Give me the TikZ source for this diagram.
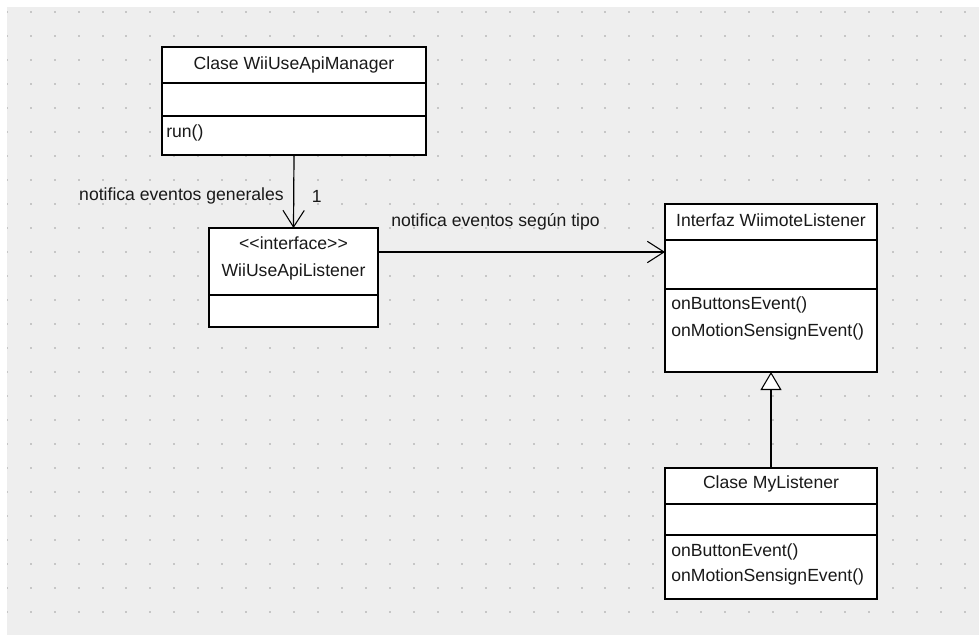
\documentclass[tikz,border=0pt]{standalone}
\usepackage{fontspec}
\setmainfont{Liberation Sans}
\usetikzlibrary{arrows.meta,shadows}
\definecolor{canvas}{HTML}{EEEEEE}
\definecolor{griddot}{HTML}{C6C6C6}
\begin{document}
\begin{tikzpicture}[x=0.75pt,y=-0.75pt]
\tikzset{
  uml/.style={draw=black, line width=0.9pt, fill=white, anchor=north west,
    inner sep=0pt, outer sep=0pt,
    drop shadow={shadow xshift=0.8pt, shadow yshift=-0.8pt, fill=black!45, opacity=1}},
  sep/.style={line width=0.9pt},
  lbl/.style={inner sep=0pt, font=\fontsize{13.2}{15}\selectfont, text=black!90},
  assoc/.style={line width=0.9pt, -{Straight Barb[length=12.5pt,width=16pt,line width=0.8pt]}},
  gen/.style={line width=0.9pt, -{Triangle[fill=white,length=13.5pt,width=15.75pt,line width=0.8pt]}},
}
% canvas and dotted grid
\useasboundingbox (0,0) rectangle (979,635);
\fill[white] (0,0) rectangle (979,635);
\fill[canvas] (7,7) rectangle (979,635);
\begin{scope}
  \clip (7,7) rectangle (979,635);
  \foreach \i in {0,...,40}{
    \foreach \j in {0,...,25}{
      \fill[griddot] ({6.7+23.95*\i-1},{12.3+24*\j-1}) rectangle ++(2,2);
    }
  }
\end{scope}

% class WiiUseApiManager
\node[uml, minimum width=198pt, minimum height=81pt] (mgr) at (162,47) {};
\draw[sep] (mgr.west |- 0,83) -- (mgr.east |- 0,83);
\draw[sep] (mgr.west |- 0,116) -- (mgr.east |- 0,116);
\node[lbl] (mgrT) at (294,65) {Clase WiiUseApiManager};
\node[lbl, anchor=west] (mgrOp) at (166,133) {run()};

% interface WiiUseApiListener
\node[uml, minimum width=126.75pt, minimum height=74.25pt] (lsn) at (209,228) {};
\draw[sep] (lsn.west |- 0,295) -- (lsn.east |- 0,295);
\node[lbl] (lsnS) at (293.5,243) {<{}<interface>{}>};
\node[lbl] (lsnT) at (293.5,272) {WiiUseApiListener};

% interface WiimoteListener
\node[uml, minimum width=159pt, minimum height=126pt] (wml) at (665,204) {};
\draw[sep] (wml.west |- 0,240) -- (wml.east |- 0,240);
\draw[sep] (wml.west |- 0,289) -- (wml.east |- 0,289);
\node[lbl] (wmlT) at (771,220) {Interfaz WiimoteListener};
\node[lbl, anchor=west] (wmlOp1) at (671,305) {onButtonsEvent()};
\node[lbl, anchor=west] (wmlOp2) at (671,332) {onMotionSensignEvent()};

% class MyListener
\node[uml, minimum width=159pt, minimum height=98.25pt] (my) at (665,468) {};
\draw[sep] (my.west |- 0,504) -- (my.east |- 0,504);
\draw[sep] (my.west |- 0,535) -- (my.east |- 0,535);
\node[lbl] (myT) at (771,484) {Clase MyListener};
\node[lbl, anchor=west] (myOp1) at (671,552) {onButtonEvent()};
\node[lbl, anchor=west] (myOp2) at (671,577) {onMotionSensignEvent()};

% relations
\draw[assoc] (mgr.south) -- (lsn.north);
\node[lbl, anchor=east] (genLbl) at (284,196) {notifica eventos generales};
\node[lbl] (mult) at (316.7,196) {1};

\coordinate (lsnOut) at (lsn.east |- 0,252);
\draw[assoc] (lsnOut) -- (lsnOut -| wml.west);
\node[lbl, anchor=west] (typLbl) at (391,222) {notifica eventos según tipo};

\draw[gen] (my.north) -- (wml.south);
\end{tikzpicture}
\end{document}
